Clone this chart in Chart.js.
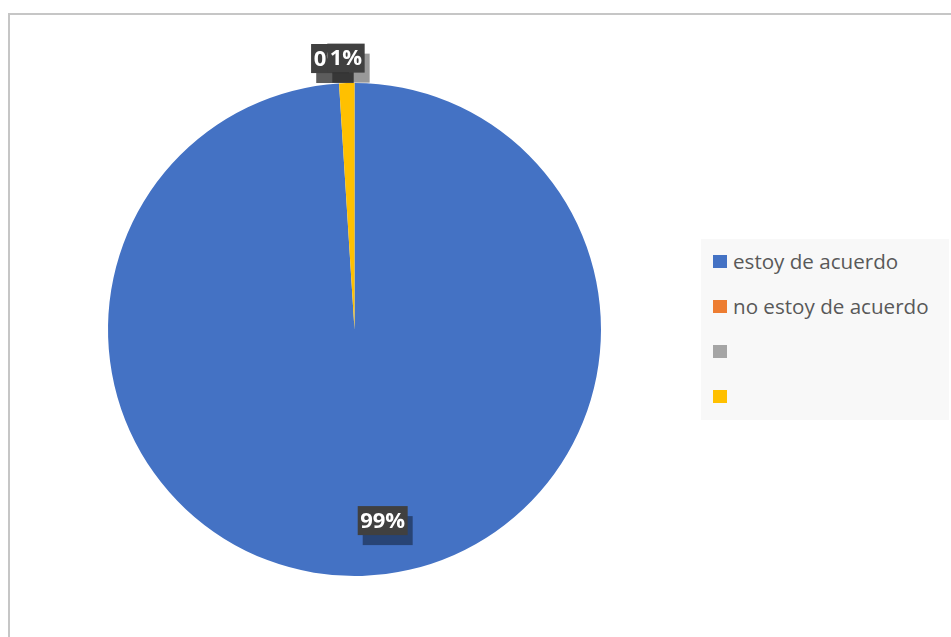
<!DOCTYPE html>
<html>
<head>
<meta charset="utf-8">
<script src="https://cdn.jsdelivr.net/npm/chart.js@4/dist/chart.umd.min.js"></script>
<style>
    html, body { margin: 0; padding: 0; background: #fff; overflow: hidden; }
    .frame {
        position: absolute; left: 8px; top: 13px; width: 1000px; height: 700px;
        border-left: 2px solid #c6c6c6; border-top: 2px solid #c6c6c6;
    }
    canvas { position: absolute; left: 0; top: 0; }
    .legend {
        position: absolute; left: 701px; top: 239px; width: 248px; height: 181px;
        background: #f8f8f8; font-family: "Open Sans", sans-serif; font-size: 20.6px; color: #595959;
    }
    .legend-item { position: absolute; left: 12px; height: 28px; display: flex; align-items: center; white-space: nowrap; }
    .legend-box { width: 14px; height: 13px; margin-right: 6px; flex: none; }
</style>
</head>
<body>
<div class="frame"></div>
<canvas id="pieChart" width="951" height="637"></canvas>
<div class="legend" id="legend"></div>
<script>
// Chart data
const categories = ["estoy de acuerdo", "no estoy de acuerdo", "", ""];
const values = [99, 0, 0, 1];
const colors = ["#4472C4", "#ED7D31", "#A5A5A5", "#FFC000"];

// Legend
const legend = document.getElementById("legend");
categories.forEach((name, i) => {
    const item = document.createElement("div");
    item.className = "legend-item";
    item.style.top = (8 + i * 45) + "px";
    const box = document.createElement("span");
    box.className = "legend-box";
    box.style.background = colors[i];
    const text = document.createElement("span");
    text.textContent = name;
    item.appendChild(box);
    item.appendChild(text);
    legend.appendChild(item);
});

// Percentage labels in dark boxes with a drop shadow
const pieLabels = {
    id: "pieLabels",
    afterDatasetsDraw(chart) {
        const ctx = chart.ctx;
        const meta = chart.getDatasetMeta(0);
        const total = values.reduce((a, b) => a + b, 0);
        const h = 29;
        ctx.save();
        ctx.font = "bold 22px 'Open Sans'";
        ctx.textAlign = "center";
        ctx.textBaseline = "middle";

        const boxes = meta.data.map((arc, i) => {
            const { x, y, startAngle, endAngle, outerRadius } = arc.getProps(
                ["x", "y", "startAngle", "endAngle", "outerRadius"], true);
            const share = values[i] / total;
            const mid = (startAngle + endAngle) / 2;
            const outside = share < 0.05;
            const dist = outside ? outerRadius + 25 : outerRadius * 0.8;
            const label = Math.round(share * 100) + "%";
            const cx = x + Math.cos(mid) * dist + (outside ? 0 : 22);
            // inside labels sit a little off the bisector
            return {
                label,
                outside,
                w: ctx.measureText(label).width + 5,
                anchor: cx,
                cx,
                cy: y + Math.sin(mid) * dist + (outside ? 0 : -6),
            };
        });

        // push crowded outside labels to the left of the next one;
        // labels sharing an anchor stay stacked together
        for (let i = boxes.length - 2; i >= 0; i--) {
            const a = boxes[i], b = boxes[i + 1];
            if (!a.outside || !b.outside) continue;
            if (Math.abs(a.anchor - b.anchor) < 0.5) {
                a.cx = b.cx;
                continue;
            }
            const aLeft = a.cx - a.w / 2, bLeft = b.cx - b.w / 2;
            if (aLeft > bLeft - 16) a.cx -= aLeft - (bLeft - 16);
        }

        boxes.forEach((b) => {
            ctx.shadowColor = "rgba(0, 0, 0, 0.4)";
            ctx.shadowOffsetX = 5;
            ctx.shadowOffsetY = 10;
            ctx.shadowBlur = 0;
            ctx.fillStyle = "#404040";
            ctx.fillRect(b.cx - b.w / 2, b.cy - h / 2, b.w, h);
            ctx.shadowColor = "transparent";
            ctx.fillStyle = "#ffffff";
            ctx.fillText(b.label, b.cx, b.cy + 1);
        });
        ctx.restore();
    },
};

const pieCtx = document.getElementById("pieChart").getContext("2d");
const pieChart = new Chart(pieCtx, {
    type: "pie",
    data: {
        labels: categories,
        datasets: [
            {
                data: values,
                backgroundColor: colors,
                borderWidth: 0,
            },
        ],
    },
    options: {
        responsive: false,
        animation: false,
        layout: {
            padding: { left: 108, top: 83, right: 350, bottom: 61 },
        },
        plugins: {
            legend: { display: false },
            tooltip: { enabled: false },
        },
    },
    plugins: [pieLabels],
});
</script>
</body>
</html>
